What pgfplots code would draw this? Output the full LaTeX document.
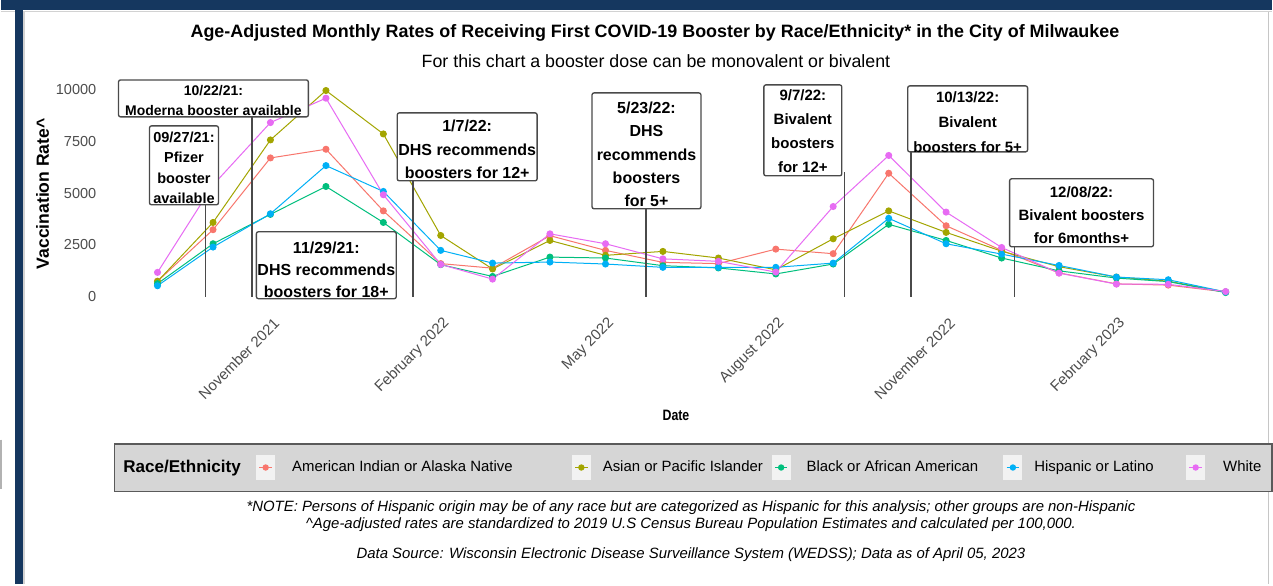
\documentclass[border=0pt]{standalone}
\usepackage{pgfplots}
\usepackage{pgfplotstable}
\pgfplotsset{compat=1.18}
\usepackage{fontspec}
\setmainfont{Liberation Sans}
\newfontfamily\narrowfont[FakeStretch=0.82]{Liberation Sans}

\definecolor{cAI}{HTML}{F8766D}
\definecolor{cAS}{HTML}{A3A500}
\definecolor{cBL}{HTML}{00BF7D}
\definecolor{cHI}{HTML}{00B0F6}
\definecolor{cWH}{HTML}{E76BF3}
\definecolor{navy}{HTML}{15375F}
\definecolor{tickgray}{HTML}{4D4D4D}
\definecolor{boxline}{HTML}{4A4A4A}
\definecolor{leggray}{HTML}{D6D6D6}
\definecolor{legborder}{HTML}{5A5A5A}
\definecolor{keybg}{HTML}{F2F2F2}

\pgfplotstableread{
day AI AS BL HI WH
0   750  740  630  530 1175
30 3240 3590 2560 2400 5400
61 6710 7580 3980 4010 8420
91 7130 9970 5330 6340 9600
122 4150 7870 3590 5090 4930
153 1600 2960 1550 2240 1560
181 1380 1340 980 1625 850
212 2950 2720 1915 1675 3040
242 2240 2000 1870 1580 2560
273 1660 2190 1500 1420 1830
303 1600 1870 1390 1420 1710
334 2300 1300 1100 1420 1190
365 2080 2800 1580 1625 4360
395 5970 4150 3500 3790 6830
426 3430 3110 2720 2560 4090
456 2240 2200 1870 2060 2380
487 1150 1450 1250 1510 1140
518 620 950 900 950 610
546 560 750 730 820 600
577 230 230 200 230 250
}\data

\pgfplotsset{
  legkey/.style={legend image code/.code={
    \fill[keybg] (0pt,-9pt) rectangle (13.5pt,9pt);
    \draw[#1, line width=0.75pt] (2pt,0pt) -- (11.5pt,0pt);
    \fill[#1] (6.75pt,0pt) circle (2pt);
  }},
  ser/.style={#1, line width=0.75pt, mark=*, mark size=2.25pt, mark options={draw=#1, fill=#1}, legkey=#1},
}

\begin{document}
\begin{tikzpicture}
\begin{scope}[x=0.75pt,y=-0.75pt]
\fill[white] (0,0) rectangle (1273,585);
\fill[navy] (0,0) rectangle (1273,10);
\fill[navy] (14,10) rectangle (22,585);
\draw[gray!35, line width=1pt] (23.5,11) -- (23.5,585);
\draw[gray!35, line width=1pt] (23.5,11.5) -- (1273,11.5);
\draw[gray!35, line width=1pt] (0,11.5) -- (14,11.5);
\draw[gray!45, line width=1pt] (1269,12) -- (1269,585);
\draw[gray!60, line width=1.2pt] (0.5,440) -- (0.5,490);
\end{scope}

\begin{axis}[
  at={(89.955pt,-230.5125pt)}, anchor=south west,
  scale only axis, width=861.7pt, height=170.78pt,
  xmin=-20, xmax=600, ymin=-500, ymax=10500,
  axis line style={draw=none},
  major tick length=0pt,
  scaled y ticks=false,
  xtick={61,153,242,334,426,518},
  xticklabels={November 2021,February 2022,May 2022,August 2022,November 2022,February 2023},
  ytick={0,2500,5000,7500,10000},
  yticklabels={0,2500,5000,7500,10000},
  xticklabel style={xshift=4.75pt, yshift=-10.5pt, rotate=45, anchor=east, inner sep=0pt, font=\fontsize{11.25pt}{12pt}\selectfont, text=tickgray},
  yticklabel style={anchor=east, inner sep=0pt, xshift=-18pt, font=\fontsize{10.9pt}{12pt}\selectfont, text=tickgray},
  clip=false,
  legend columns=6,
  legend cell align=left,
  legend style={
    at={(axis description cs:-0.00604,-0.7055)}, anchor=west,
    fill=leggray, draw=legborder, line width=1.2pt,
    inner xsep=6.75pt, inner ysep=8.5pt,
    /tikz/column sep=0pt,
    nodes={inner sep=0pt, anchor=west},
    font=\fontsize{11.2pt}{13pt}\selectfont,
  },
]
\addlegendimage{empty legend}
\addlegendentry{\makebox[99.75pt][l]{\fontsize{12.8pt}{14pt}\selectfont\bfseries Race/Ethnicity}}
\addplot[ser=cAI] table[x=day,y=AI]{\data};
\addlegendentry{\makebox[222.75pt][l]{\hspace{12.75pt}American Indian or Alaska Native}}
\addplot[ser=cAS] table[x=day,y=AS]{\data};
\addlegendentry{\makebox[135.75pt][l]{\hspace{9pt}Asian or Pacific Islander}}
\addplot[ser=cBL] table[x=day,y=BL]{\data};
\addlegendentry{\makebox[159.75pt][l]{\hspace{12pt}Black or African American}}
\addplot[ser=cHI] table[x=day,y=HI]{\data};
\addlegendentry{\makebox[123pt][l]{\hspace{9pt}Hispanic or Latino}}
\addplot[ser=cWH] table[x=day,y=WH]{\data};
\addlegendentry{\makebox[43.5pt][l]{\hspace{13.5pt}White}}

% annotation date lines
\draw[boxline, line width=1.1pt] (axis cs:26,0) -- (axis cs:26,4444);
\draw[boxline, line width=1.1pt] (axis cs:51,0) -- (axis cs:51,8696);
\draw[boxline, line width=1.1pt] (axis cs:138,0) -- (axis cs:138,5604);
\draw[boxline, line width=1.1pt] (axis cs:264,0) -- (axis cs:264,4251);
\draw[boxline, line width=1.1pt] (axis cs:371,0) -- (axis cs:371,6039);
\draw[boxline, line width=1.1pt] (axis cs:407,0) -- (axis cs:407,7005);
\draw[boxline, line width=1.1pt] (axis cs:463,0) -- (axis cs:463,2415);
\end{axis}

\begin{scope}[x=0.75pt,y=-0.75pt,
  annot/.style={draw=boxline, line width=1pt, rounded corners=1.5pt, fill=white, inner sep=0pt}]
% annotation boxes
\node[annot, minimum width=142.5pt, minimum height=27.75pt] at (213,98.5) {};
\node[align=center, font=\bfseries\fontsize{10.5pt}{15pt}\selectfont] at (213,101) {10/22/21:\\Moderna booster available};
\node[annot, minimum width=51.75pt, minimum height=59.25pt] at (183.5,165.5) {};
\node[align=center, font=\bfseries\fontsize{10.9pt}{15.5pt}\selectfont] at (183.5,168) {09/27/21:\\Pfizer\\booster\\available};
\node[annot, minimum width=105pt, minimum height=50.25pt] at (326,265.5) {};
\node[align=center, font=\bfseries\fontsize{12pt}{16.5pt}\selectfont] at (326,270) {11/29/21:\\DHS recommends\\boosters for 18+};
\node[annot, minimum width=105pt, minimum height=51pt] at (467,147) {};
\node[align=center, font=\bfseries\fontsize{12pt}{17.6pt}\selectfont] at (467,149.5) {1/7/22:\\DHS recommends\\boosters for 12+};
\node[annot, minimum width=81.75pt, minimum height=87pt] at (646.5,151) {};
\node[align=center, font=\bfseries\fontsize{12pt}{17.6pt}\selectfont] at (646.5,154.5) {5/23/22:\\DHS\\recommends\\boosters\\for 5+};
\node[annot, minimum width=58.5pt, minimum height=68.25pt] at (803,130.5) {};
\node[align=center, font=\bfseries\fontsize{11.25pt}{18pt}\selectfont] at (803,131.5) {9/7/22:\\Bivalent\\boosters\\for 12+};
\node[annot, minimum width=90pt, minimum height=49.5pt] at (968,119) {};
\node[align=center, font=\bfseries\fontsize{11.25pt}{18.75pt}\selectfont] at (968,122) {10/13/22:\\Bivalent\\boosters for 5+};
\node[annot, minimum width=108pt, minimum height=51pt] at (1082,213) {};
\node[align=center, font=\bfseries\fontsize{11.25pt}{17.25pt}\selectfont] at (1082,215) {12/08/22:\\Bivalent boosters\\for 6months+};

% titles
\node[font=\bfseries\fontsize{13.45pt}{15pt}\selectfont] at (655,33) {Age-Adjusted Monthly Rates of Receiving First COVID-19 Booster by Race/Ethnicity* in the City of Milwaukee};
\node[font=\fontsize{13.35pt}{15pt}\selectfont] at (656,61) {For this chart a booster dose can be monovalent or bivalent};
\node[font=\narrowfont\bfseries\fontsize{11.3pt}{12pt}\selectfont] at (676,416) {Date};
\node[rotate=90, font=\bfseries\fontsize{13.2pt}{14pt}\selectfont] at (42,194) {Vaccination Rate\textasciicircum};

% footnotes
\node[font=\itshape\fontsize{11.2pt}{12pt}\selectfont] at (691,508) {*NOTE: Persons of Hispanic origin may be of any race but are categorized as Hispanic for this analysis; other groups are non-Hispanic};
\node[font=\itshape\fontsize{11.2pt}{12pt}\selectfont] at (691,525) {\textasciicircum Age-adjusted rates are standardized to 2019 U.S Census Bureau Population Estimates and calculated per 100,000.};
\node[font=\itshape\fontsize{11.2pt}{12pt}\selectfont] at (691,555) {Data Source: Wisconsin Electronic Disease Surveillance System (WEDSS); Data as of April 05, 2023};
\end{scope}
\end{tikzpicture}
\end{document}
